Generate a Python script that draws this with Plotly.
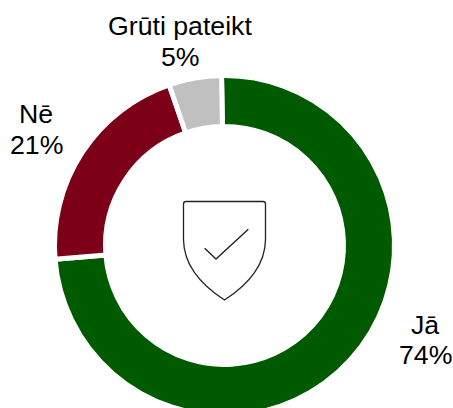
import plotly.graph_objects as go

categories = ["Jā", "Nē", "Grūti pateikt"]
values = [74, 21, 5]
percent_labels = ["74%", "21%", "5%"]
colors = ["#005a00", "#7b0018", "#c0c0c0"]

# The reference ring runs past the bottom of the 408 px window, so the figure is
# slightly taller than the window and the page clips it.
W, H = 453, 420
cx, cy, r = 224.5, 245.5, 170
fig = go.Figure(go.Pie(
    labels=categories, values=values, hole=0.70, sort=False,
    direction="clockwise", rotation=-1,
    marker=dict(colors=colors, line=dict(color="white", width=5)),
    textinfo="none", hoverinfo="label+percent", showlegend=False,
    domain=dict(x=[(cx - r) / W, (cx + r) / W], y=[1 - (cy + r) / H, 1 - (cy - r) / H]),
))
font = dict(family="Liberation Sans, Arial", size=26.7, color="black")
pos = [(425, 325, 355), (36, 114, 145), (180, 26, 57)]
for name, pct, (x, y1, y2) in zip(categories, percent_labels, pos):
    for t, y in ((name, y1), (pct, y2)):
        fig.add_annotation(text=t, x=x / W, y=1 - y / H, xref="paper", yref="paper",
                           showarrow=False, font=font, xanchor="center", yanchor="middle", align="center")
px = lambda x: x / W
py = lambda y: 1 - y / H
shield = (f"M {px(183.5)} {py(204)} Q {px(183.5)} {py(201.5)} {px(186)} {py(201.5)} "
          f"L {px(263)} {py(201.5)} Q {px(265.5)} {py(201.5)} {px(265.5)} {py(204)} L {px(265.5)} {py(240)} "
          f"C {px(265)} {py(268)}, {px(243)} {py(288)}, {px(224.5)} {py(300)} "
          f"C {px(206)} {py(288)}, {px(184)} {py(268)}, {px(183.5)} {py(240)} Z")
fig.add_shape(type="path", path=shield, xref="paper", yref="paper", line=dict(color="#222222", width=1.3))
check = f"M {px(204.7)} {py(248.3)} L {px(216)} {py(259)} L {px(248.3)} {py(229.3)}"
fig.add_shape(type="path", path=check, xref="paper", yref="paper", line=dict(color="#222222", width=1.4))
fig.update_layout(width=W, height=H, margin=dict(l=0, r=0, t=0, b=0),
                  paper_bgcolor="white", plot_bgcolor="white")
fig.write_html("out.html", config={"displayModeBar": False},
               post_script="document.documentElement.style.overflow='hidden';document.body.style.overflow='hidden';document.body.style.margin='0';")
